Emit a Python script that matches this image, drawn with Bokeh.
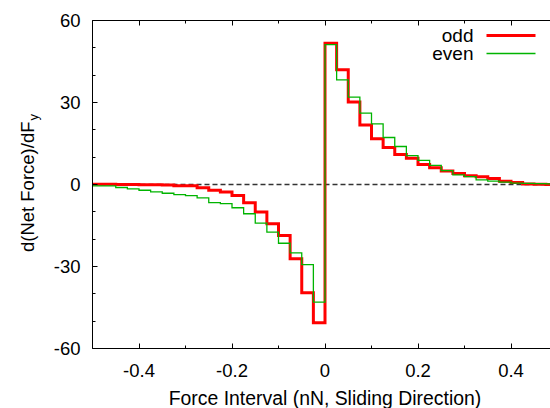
from math import pi
from bokeh.plotting import figure
from bokeh.models import Range1d, LinearAxis, Label, FixedTicker, CustomJSTickFormatter
from bokeh.embed import file_html
from bokeh.resources import INLINE

# ---- data (bin left edges, bin width 0.025 nN) ----
bin_left = [-0.5, -0.475, -0.45, -0.425, -0.4, -0.375, -0.35, -0.325, -0.3, -0.275,
            -0.25, -0.225, -0.2, -0.175, -0.15, -0.125, -0.1, -0.075, -0.05, -0.025,
            0.0, 0.025, 0.05, 0.075, 0.1, 0.125, 0.15, 0.175, 0.2, 0.225,
            0.25, 0.275, 0.3, 0.325, 0.35, 0.375, 0.4, 0.425, 0.45, 0.475]
bin_end = 0.5

odd = [0.1, 0.1, 0.0, 0.0, -0.1, -0.1, -0.2, -0.5, -0.5, -1.2,
       -2.1, -2.7, -4.0, -6.7, -10.1, -14.4, -18.7, -27.2, -39.6, -50.6,
       51.7, 42.0, 30.2, 21.8, 16.7, 13.5, 11.0, 9.6, 7.3, 6.1,
       4.9, 4.0, 3.2, 2.8, 2.2, 1.2, 0.7, 0.2, 0.1, 0.0]
even = [-0.5, -0.5, -1.1, -1.6, -2.1, -2.7, -3.2, -3.7, -4.1, -4.9,
        -6.6, -7.0, -8.5, -10.7, -14.1, -17.4, -21.5, -25.0, -29.3, -43.0,
        51.2, 38.3, 32.0, 26.1, 22.2, 17.2, 13.9, 10.6, 8.8, 7.0,
        5.1, 3.5, 2.9, 1.7, 1.2, 0.9, 0.5, 0.4, 0.3, 0.2]

x_ticks = [-0.4, -0.2, 0.0, 0.2, 0.4]
x_minor = [-0.5, -0.3, -0.1, 0.1, 0.3, 0.5]
y_ticks = [-60, -30, 0, 30, 60]
y_minor = [-50, -40, -20, -10, 10, 20, 40, 50]
y_lim = (-60, 60)
x_label = "Force Interval (nN, Sliding Direction)"
y_label_main = "d(Net Force)/dF"
y_label_sub = "y"
series_names = ["odd", "even"]
zero_level = 0

# ---- layout constants (page pixels) ----
FONT = "Liberation Sans"
W, H = 550, 408
AXIS_L = 92           # page x of the left border
AXIS_T, AXIS_B = 20, 348   # page y of top / bottom border
XSCALE = 465.0        # px per nN
X_AXIS = bin_left[0]
YSCALE = (AXIS_B - AXIS_T) / (y_lim[1] - y_lim[0])


def dx(px):
    return X_AXIS + (px - AXIS_L) / XSCALE


def dy(py):
    return y_lim[1] - (py - AXIS_T) / YSCALE


p = figure(frame_width=W, frame_height=H, output_backend="svg", toolbar_location=None,
           x_range=Range1d(dx(0), dx(W)), y_range=Range1d(dy(H), dy(0)),
           min_border_left=0, min_border_right=0, min_border_top=0, min_border_bottom=0)
p.outline_line_color = None
p.xgrid.visible = False
p.ygrid.visible = False
p.background_fill_color = "white"
p.border_fill_color = "white"

fmt = CustomJSTickFormatter(code="return String(Math.round(tick * 10) / 10);")

for ax, tk, mn in ((p.xaxis[0], x_ticks, x_minor), (p.yaxis[0], y_ticks, y_minor)):
    ax.ticker = FixedTicker(ticks=tk, minor_ticks=mn)
    ax.formatter = fmt
    ax.major_tick_in = 5
    ax.major_tick_out = 0
    ax.minor_tick_in = 3
    ax.minor_tick_out = 0
    ax.axis_line_color = "black"
    ax.major_tick_line_color = "black"
    ax.minor_tick_line_color = "black"
    ax.major_label_text_font = FONT
    ax.major_label_text_font_size = "18.5px"
    ax.major_label_text_color = "black"

p.yaxis[0].fixed_location = X_AXIS
p.yaxis[0].bounds = y_lim
p.yaxis[0].major_label_standoff = 12
p.xaxis[0].fixed_location = y_lim[0]
p.xaxis[0].bounds = (X_AXIS, bin_end)
p.xaxis[0].major_label_standoff = 15

top = LinearAxis(ticker=FixedTicker(ticks=x_ticks, minor_ticks=x_minor),
                 formatter=CustomJSTickFormatter(code="return '';"),
                 bounds=(X_AXIS, bin_end), fixed_location=y_lim[1],
                 major_tick_in=5, major_tick_out=0, minor_tick_in=3, minor_tick_out=0,
                 major_label_standoff=0)
p.add_layout(top, "above")

# zero line (dashed, from the left border to the right end)
p.segment(x0=[X_AXIS], y0=[zero_level], x1=[bin_end], y1=[zero_level],
          line_color="#333333", line_width=1.3, line_dash="5 3")

# step curves
xs = bin_left + [bin_end]
p.step(xs, odd + [odd[-1]], mode="after", line_color="#ff0000", line_width=3,
       line_join="miter")
p.step(xs, even + [even[-1]], mode="after", line_color="#00b400", line_width=1.3,
       line_join="miter")

# legend (gnuplot style: text then sample)
leg_y = [dy(35), dy(53)]
leg_col = ["#ff0000", "#00b400"]
leg_w = [3, 1.3]
for name, yy, c, w in zip(series_names, leg_y, leg_col, leg_w):
    p.add_layout(Label(x=dx(473), y=yy, text=name, text_align="right", text_baseline="middle",
                       text_font=FONT, text_font_size="19px", text_color="black"))
    p.segment(x0=[dx(486)], y0=[yy], x1=[dx(535)], y1=[yy], line_color=c, line_width=w)

# x axis label
p.add_layout(Label(x=(X_AXIS + bin_end) / 2, y=dy(397), text=x_label,
                   text_align="center", text_baseline="middle",
                   text_font=FONT, text_font_size="19.4px", text_color="black"))

# y axis label with subscript
p.add_layout(Label(x=dx(27), y=dy(121), text=y_label_main, angle=pi / 2,
                   text_align="right", text_baseline="middle",
                   text_font=FONT, text_font_size="18.5px", text_color="black"))
p.add_layout(Label(x=dx(33), y=dy(120), text=y_label_sub, angle=pi / 2,
                   text_align="left", text_baseline="middle",
                   text_font=FONT, text_font_size="13px", text_color="black"))

open("out.html", "w").write(file_html(p, INLINE))
